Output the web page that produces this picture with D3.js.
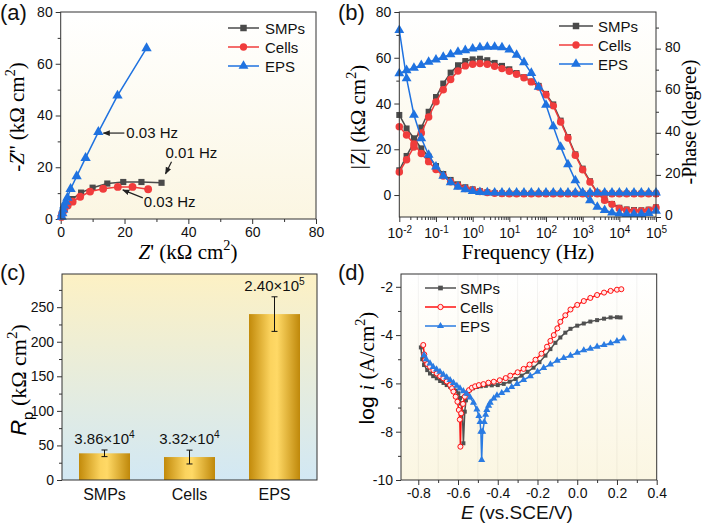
<!DOCTYPE html>
<html>
<head>
<meta charset="utf-8">
<script src="https://cdn.jsdelivr.net/npm/d3@7"></script>
<style>
body{margin:0;background:#fff;}
svg text{font-family:"Liberation Sans",Arial,sans-serif;}
</style>
</head>
<body>
<div id="chart"></div>
<script>
///////////////////////////////////////////////////////////////////////////
//////////////////////////////// Data /////////////////////////////////////
///////////////////////////////////////////////////////////////////////////

var seriesNames = ["SMPs", "Cells", "EPS"];

// (a) Nyquist, kOhm cm2
var nyqSMPsX = [0.3, 0.6, 1.1, 2.1, 3.6, 6.4, 10.0, 14.6, 19.6, 25.3, 31.6];
var nyqSMPsY = [1.3, 2.6, 4.1, 5.8, 7.7, 10.2, 12.1, 13.7, 14.3, 14.3, 14.0];
var nyqCellsX = [0.2, 0.5, 1.1, 2.2, 3.75, 6.1, 9.2, 13.3, 17.9, 22.5, 27.4];
var nyqCellsY = [0.8, 2.1, 3.5, 5.2, 6.7, 8.6, 10.6, 11.7, 12.4, 12.4, 11.5];
var nyqEPSX = [0.3, 0.5, 0.8, 1.1, 1.6, 2.1, 3.1, 5.0, 7.8, 11.8, 17.8, 26.9];
var nyqEPSY = [0.9, 2.2, 3.7, 5.2, 6.7, 8.2, 11.6, 16.5, 23.6, 33.6, 47.7, 66.0];

// (b) Bode
var freq = [0.01, 0.0158, 0.0251, 0.0398, 0.0631, 0.1, 0.158, 0.251, 0.398, 0.631,
  1, 1.58, 2.51, 3.98, 6.31, 10, 15.8, 25.1, 39.8, 63.1,
  100, 158, 251, 398, 631, 1000, 1585, 2512, 3981, 6310,
  10000, 15849, 25119, 39811, 63096, 100000];
var zSMPs = [35.0, 29.1, 24.8, 20.4, 16.8, 12.7, 9.2, 6.6, 4.7, 3.4, 2.5, 1.7, 1.2, 0.9, 0.7, 0.6, 0.6, 0.6, 0.6, 0.6,
  0.6, 0.6, 0.6, 0.6, 0.6, 0.6, 0.6, 0.6, 0.6, 0.6, 0.6, 0.6, 0.6, 0.6, 0.6, 0.6];
var zCells = [29.9, 26.2, 22.3, 18.2, 14.6, 11.2, 8.3, 5.8, 4.1, 2.9, 2.2, 1.5, 1.1, 0.8, 0.7, 0.6, 0.6, 0.6, 0.6, 0.6,
  0.6, 0.6, 0.6, 0.6, 0.6, 0.6, 0.6, 0.6, 0.6, 0.6, 0.6, 0.6, 0.6, 0.6, 0.6, 0.6];
var zEPS = [72.1, 51.0, 35.0, 24.8, 17.5, 12.4, 8.4, 5.5, 3.6, 2.5, 1.7, 1.3, 1.1, 1.0, 1.0, 1.0, 1.0, 1.0, 1.0, 1.0,
  1.0, 1.0, 1.0, 1.0, 1.0, 1.0, 1.0, 1.0, 1.0, 1.0, 1.0, 1.0, 1.0, 1.0, 1.0, 1.0];
var phSMPs = [22.2, 29, 35.5, 42.5, 50, 57, 63.4, 68.6, 72.1, 74.1, 74.9, 75.2, 74.5, 73.2, 71.8, 70.2, 68.4, 66.4, 64.4, 62.3,
  58.5, 53.5, 45.8, 38, 29.8, 23, 17, 11.6, 8, 6.2, 4.4, 3.6, 3.3, 3.2, 3.5, 4.6];
var phCells = [21.4, 27.2, 33.3, 39.9, 47.5, 54.7, 60.5, 65.3, 69.4, 71.8, 72.6, 72.9, 72.6, 71.6, 70.5, 69.2, 67.8, 66.2, 64.2, 61.8,
  58.1, 52.8, 45.1, 37.5, 29.3, 22.5, 16.6, 11.4, 7.9, 6.0, 4.0, 3.2, 2.9, 2.9, 3.2, 4.4];
var phEPS = [68.2, 69.7, 70.8, 72.1, 73.7, 74.8, 76, 77.2, 78.4, 79.2, 80, 80.6, 80.8, 80.8, 80.6, 79.5, 77, 73.5, 68.4, 61.8,
  53.3, 43, 33.3, 25, 17.4, 11.4, 7.9, 4.8, 3.2, 2.1, 1.6, 1.4, 1.3, 1.4, 1.8, 2.9];

// (c) Rp
var rpValues = [38.6, 33.2, 240];
var rpErrors = [4.8, 10, 25];
var rpLabels = [["3.86\u00d710", "4"], ["3.32\u00d710", "4"], ["2.40\u00d710", "5"]];

// (d) Tafel: E (V vs SCE), log i
var tafSMPsE = [-0.787, -0.780, -0.771, -0.755, -0.741, -0.725, -0.707, -0.690, -0.673, -0.657, -0.640, -0.623, -0.610, -0.598, -0.590,
  -0.585, -0.578, -0.573, -0.566, -0.560, -0.553, -0.540, -0.525, -0.505, -0.485, -0.46, -0.43, -0.40, -0.37, -0.34,
  -0.31, -0.28, -0.25, -0.22, -0.19, -0.16, -0.135, -0.11, -0.085, -0.06, -0.034, 0.0, 0.033, 0.066, 0.10, 0.135, 0.168, 0.2, 0.218];
var tafSMPsI = [-4.51, -5.0, -5.24, -5.45, -5.59, -5.70, -5.79, -5.90, -5.98, -6.07, -6.14, -6.21, -6.30, -6.41, -6.60,
  -6.83, -7.24, -8.48, -7.17, -6.70, -6.41, -6.28, -6.20, -6.15, -6.12, -6.10, -6.08, -6.07, -6.02, -5.93,
  -5.82, -5.68, -5.52, -5.35, -5.12, -4.85, -4.58, -4.32, -4.10, -3.90, -3.74, -3.61, -3.52, -3.44, -3.38, -3.32, -3.27, -3.26, -3.27];
var tafCellsE = [-0.775, -0.770, -0.766, -0.755, -0.741, -0.724, -0.707, -0.690, -0.674, -0.657, -0.640, -0.630, -0.623, -0.612, -0.603,
  -0.596, -0.591, -0.588, -0.584, -0.575, -0.566, -0.556, -0.545, -0.530, -0.514, -0.495, -0.472, -0.447, -0.42, -0.39,
  -0.36, -0.337, -0.30, -0.27, -0.24, -0.21, -0.18, -0.152, -0.135, -0.118, -0.10, -0.085, -0.06, -0.034, 0.0,
  0.033, 0.066, 0.10, 0.135, 0.168, 0.2, 0.222];
var tafCellsI = [-4.41, -4.80, -5.03, -5.20, -5.31, -5.45, -5.59, -5.70, -5.79, -5.92, -6.07, -6.20, -6.34, -6.55, -6.76,
  -7.1, -7.5, -8.62, -7.24, -6.85, -6.55, -6.40, -6.28, -6.18, -6.12, -6.07, -6.03, -5.97, -5.93, -5.87,
  -5.78, -5.68, -5.54, -5.40, -5.22, -5.02, -4.77, -4.48, -4.24, -4.0, -3.72, -3.45, -3.18, -2.94, -2.75,
  -2.59, -2.46, -2.34, -2.24, -2.17, -2.12, -2.10];
var tafEPSE = [-0.771, -0.760, -0.741, -0.725, -0.708, -0.691, -0.674, -0.657, -0.640, -0.623, -0.606, -0.590, -0.573, -0.556, -0.539,
  -0.522, -0.505, -0.495, -0.489, -0.485, -0.481, -0.476, -0.468, -0.461, -0.455, -0.446, -0.438, -0.42, -0.404, -0.38,
  -0.354, -0.33, -0.303, -0.27, -0.236, -0.20, -0.169, -0.135, -0.101, -0.068, -0.034, 0.0, 0.033, 0.066, 0.10,
  0.135, 0.168, 0.20, 0.232];
var tafEPSI = [-4.83, -5.0, -5.17, -5.32, -5.42, -5.52, -5.64, -5.75, -5.86, -5.98, -6.10, -6.21, -6.32, -6.43, -6.58,
  -6.80, -7.08, -7.35, -7.60, -8.0, -9.17, -8.0, -7.6, -7.3, -7.1, -6.92, -6.80, -6.62, -6.50, -6.40,
  -6.28, -6.15, -6.02, -5.86, -5.70, -5.52, -5.36, -5.21, -5.06, -4.95, -4.85, -4.73, -4.63, -4.56, -4.48,
  -4.41, -4.34, -4.25, -4.14];

///////////////////////////////////////////////////////////////////////////
//////////////////// Set up and initiate svg container ////////////////////
///////////////////////////////////////////////////////////////////////////

var W = 703, H = 524;
var SERIF = '"Liberation Serif","Times New Roman",serif';
var SANS = '"Liberation Sans",Arial,sans-serif';
var colAB = {SMPs: "#4a4a4a", Cells: "#f03c3c", EPS: "#1f72e0"};
var colD = {SMPs: "#505050", Cells: "#ff1010", EPS: "#2a7be2"};
var TICK = "14px", TITLE = 21;

var svg = d3.select("#chart").append("svg")
  .attr("width", W).attr("height", H)
  .style("background", "#fff");
var defs = svg.append("defs");

function vGrad(id, top, bot) {
  var g = defs.append("linearGradient").attr("id", id)
    .attr("x1", 0).attr("y1", 0).attr("x2", 0).attr("y2", 1);
  g.append("stop").attr("offset", "0%").attr("stop-color", top);
  g.append("stop").attr("offset", "100%").attr("stop-color", bot);
}
vGrad("bgA", "#ffffff", "#fbf6e2");
vGrad("bgC", "#fdf1c4", "#d2e8f4");

var barGrad = defs.append("linearGradient").attr("id", "barGrad")
  .attr("x1", 0).attr("y1", 0).attr("x2", 1).attr("y2", 0);
[["0%", "#c28a0a"], ["42%", "#fbd35e"], ["55%", "#ffd966"], ["100%", "#bf880a"]].forEach(function(s) {
  barGrad.append("stop").attr("offset", s[0]).attr("stop-color", s[1]);
});

defs.append("marker").attr("id", "arr")
  .attr("viewBox", "0 0 10 10").attr("refX", 9).attr("refY", 5)
  .attr("markerWidth", 6).attr("markerHeight", 6).attr("orient", "auto")
  .append("path").attr("d", "M0,1 L10,5 L0,9 z").attr("fill", "#222");

// plot boxes
var bA = {x0: 60.7, x1: 316, y0: 12, y1: 219};
var bB = {x0: 399.3, x1: 656, y0: 12, y1: 217};
var bC = {x0: 62, x1: 317, y0: 274, y1: 480};
var bD = {x0: 401, x1: 656.7, y0: 274, y1: 480};

///////////////////////////////////////////////////////////////////////////
/////////////////////////////// Helpers ///////////////////////////////////
///////////////////////////////////////////////////////////////////////////

// text with sup/sub parts, shifts in px
function rich(sel, parts, size) {
  var shift = 0;
  parts.forEach(function(p) {
    var t = sel.append("tspan").text(p.t);
    var target = p.sup ? -size * 0.42 : (p.sub ? size * 0.3 : 0);
    if (target !== shift) { t.attr("dy", target - shift); shift = target; }
    if (p.f) t.style("font-family", p.f);
    if (p.i) t.style("font-style", "italic");
    if (p.sup || p.sub) t.style("font-size", (size * 0.68) + "px");
  });
  return sel;
}

function background(g, b, fill) {
  g.append("rect").attr("x", b.x0).attr("y", b.y0)
    .attr("width", b.x1 - b.x0).attr("height", b.y1 - b.y0)
    .attr("fill", fill);
}
function border(g, b) {
  g.append("rect").attr("x", b.x0).attr("y", b.y0)
    .attr("width", b.x1 - b.x0).attr("height", b.y1 - b.y0)
    .attr("fill", "none").attr("stroke", "#333").attr("stroke-width", 1);
}

function addAxis(g, axis, tr, major, minor, fmt, pad) {
  var a = g.append("g").attr("transform", tr)
    .call(axis.tickValues(major).tickSize(5).tickSizeOuter(0).tickPadding(pad || 3).tickFormat(fmt));
  a.select(".domain").remove();
  a.selectAll("text").style("font-size", TICK).attr("fill", "#111");
  a.selectAll("line").attr("stroke", "#333");
  if (minor) {
    var m = g.append("g").attr("transform", tr)
      .call(axis.tickValues(minor).tickSize(3).tickFormat(""));
    m.select(".domain").remove();
    m.selectAll("line").attr("stroke", "#333");
  }
  return a;
}

function sym(type, size) { return d3.symbol().type(type).size(size)(); }

function series(g, xs, ys, xScale, yScale, color, type, size, open) {
  var pts = xs.map(function(x, i) { return [xScale(x), yScale(ys[i])]; });
  g.append("path").attr("d", d3.line()(pts))
    .attr("fill", "none").attr("stroke", color).attr("stroke-width", 1.5);
  g.selectAll(null).data(pts).enter().append("path")
    .attr("d", sym(type, size))
    .attr("transform", function(d) { return "translate(" + d[0] + "," + d[1] + ")"; })
    .attr("fill", open ? "#ffe8e8" : color)
    .attr("stroke", open ? color : "none")
    .attr("stroke-width", 1);
}

function legend(g, x0, x1, tx, ys, colors, types, size, openIdx) {
  seriesNames.forEach(function(name, i) {
    var y = ys[i];
    g.append("line").attr("x1", x0).attr("x2", x1).attr("y1", y).attr("y2", y)
      .attr("stroke", colors[name]).attr("stroke-width", 1.5);
    g.append("path").attr("d", sym(types[i], size))
      .attr("transform", "translate(" + ((x0 + x1) / 2) + "," + y + ")")
      .attr("fill", i === openIdx ? "#ffe8e8" : colors[name])
      .attr("stroke", i === openIdx ? colors[name] : "none");
    g.append("text").attr("x", tx).attr("y", y + 5.5)
      .style("font-size", "15px").attr("fill", "#111").text(name);
  });
}

function panelLabel(x, y, s) {
  svg.append("text").attr("x", x).attr("y", y)
    .style("font-size", "22px").attr("fill", "#111").text(s);
}

var types = [d3.symbolSquare, d3.symbolCircle, d3.symbolTriangle];

///////////////////////////////////////////////////////////////////////////
/////////////////////////////// (a) Nyquist ///////////////////////////////
///////////////////////////////////////////////////////////////////////////

var gA = svg.append("g");
background(gA, bA, "url(#bgA)");
var xA = d3.scaleLinear().domain([0, 80]).range([bA.x0, bA.x1]);
var yA = d3.scaleLinear().domain([0, 80]).range([bA.y1, bA.y0]);
addAxis(gA, d3.axisBottom(xA), "translate(0," + bA.y1 + ")", [0, 20, 40, 60, 80], [10, 30, 50, 70], d3.format("d"));
addAxis(gA, d3.axisLeft(yA), "translate(" + bA.x0 + ",0)", [0, 20, 40, 60, 80], [10, 30, 50, 70], d3.format("d"));

series(gA, nyqSMPsX, nyqSMPsY, xA, yA, colAB.SMPs, d3.symbolSquare, 38);
series(gA, nyqCellsX, nyqCellsY, xA, yA, colAB.Cells, d3.symbolCircle, 48);
series(gA, nyqEPSX, nyqEPSY, xA, yA, colAB.EPS, d3.symbolTriangle, 46);
border(gA, bA);

// frequency annotations, offsets from the marked point
var annA = [
  {txt: "0.03 Hz", x: nyqEPSX[9], y: nyqEPSY[9], tail: [26, 1], tip: [5, 1], at: [28, 5.5]},
  {txt: "0.01 Hz", x: nyqSMPsX[10], y: nyqSMPsY[10], tail: [10, -21], tip: [4, -9], at: [4, -25]},
  {txt: "0.03 Hz", x: nyqCellsX[8], y: nyqCellsY[8], tail: [25, 11], tip: [5, 3], at: [26, 20]}
];
annA.forEach(function(a) {
  var px = xA(a.x), py = yA(a.y);
  gA.append("line")
    .attr("x1", px + a.tail[0]).attr("y1", py + a.tail[1])
    .attr("x2", px + a.tip[0]).attr("y2", py + a.tip[1])
    .attr("stroke", "#222").attr("stroke-width", 1.2)
    .attr("marker-end", "url(#arr)");
  gA.append("text").attr("x", px + a.at[0]).attr("y", py + a.at[1])
    .style("font-size", "15px").attr("fill", "#111").text(a.txt);
});

legend(gA, 228, 259, 265, [28, 47, 66], colAB, types, 42, -1);

rich(gA.append("text").attr("x", 188).attr("y", 259).attr("text-anchor", "middle")
  .style("font-family", SERIF).style("font-size", TITLE + "px"),
  [{t: "Z", i: true}, {t: "' (k\u03a9 cm"}, {t: "2", sup: true}, {t: ")"}], TITLE);
rich(gA.append("text").attr("transform", "translate(24,117) rotate(-90)").attr("text-anchor", "middle")
  .style("font-family", SERIF).style("font-size", TITLE + "px"),
  [{t: "-"}, {t: "Z", i: true}, {t: "'' (k\u03a9 cm"}, {t: "2", sup: true}, {t: ")"}], TITLE);
panelLabel(0, 20, "(a)");

///////////////////////////////////////////////////////////////////////////
//////////////////////////////// (b) Bode ////////////////////////////////
///////////////////////////////////////////////////////////////////////////

var gB = svg.append("g");
background(gB, bB, "url(#bgA)");
var xB = d3.scaleLog().domain([0.01, 100000]).range([bB.x0, bB.x1]);
var yBz = d3.scaleLinear().domain([-9.6, 80]).range([bB.y1, bB.y0]);
var yBp = d3.scaleLinear().domain([0, 97.4]).range([bB.y1, bB.y0]);

var decades = [0.01, 0.1, 1, 10, 100, 1000, 10000, 100000];
var minorB = [];
decades.slice(0, -1).forEach(function(d) {
  [2, 3, 4, 5, 6, 7, 8, 9].forEach(function(m) { minorB.push(d * m); });
});
var axB = addAxis(gB, d3.axisBottom(xB), "translate(0," + bB.y1 + ")", decades, minorB, "", 6);
axB.selectAll(".tick text").each(function(d) {
  var t = d3.select(this);
  t.text(null);
  t.append("tspan").text("10");
  t.append("tspan").attr("dy", -5).style("font-size", "10px").text(Math.round(Math.log10(d)));
});
addAxis(gB, d3.axisLeft(yBz), "translate(" + bB.x0 + ",0)", [0, 20, 40, 60, 80], [10, 30, 50, 70], d3.format("d"));
var axBr = addAxis(gB, d3.axisRight(yBp), "translate(" + bB.x1 + ",0)", [0, 20, 40, 60, 80], [10, 30, 50, 70, 90], d3.format("d"), 4);
axBr.selectAll(".tick text").attr("dy", "0.2em");

var bodeZ = {SMPs: zSMPs, Cells: zCells, EPS: zEPS};
var bodeP = {SMPs: phSMPs, Cells: phCells, EPS: phEPS};
var bodeSize = [36, 44, 42];
seriesNames.forEach(function(name, i) {
  series(gB, freq, bodeP[name], xB, yBp, colAB[name], types[i], bodeSize[i]);
  series(gB, freq, bodeZ[name], xB, yBz, colAB[name], types[i], bodeSize[i]);
});
border(gB, bB);

legend(gB, 559, 593, 598, [26, 45, 64], colAB, types, 42, -1);

gB.append("text").attr("x", 528).attr("y", 259).attr("text-anchor", "middle")
  .style("font-family", SERIF).style("font-size", TITLE + "px").text("Frequency (Hz)");
rich(gB.append("text").attr("transform", "translate(365,117) rotate(-90)").attr("text-anchor", "middle")
  .style("font-family", SERIF).style("font-size", TITLE + "px"),
  [{t: "|Z| (k\u03a9 cm"}, {t: "2", sup: true}, {t: ")"}], TITLE);
gB.append("text").attr("transform", "translate(696,122) rotate(-90)").attr("text-anchor", "middle")
  .style("font-family", SERIF).style("font-size", "20px").text("-Phase (degree)");
panelLabel(338, 20, "(b)");

///////////////////////////////////////////////////////////////////////////
///////////////////////////////// (c) Rp //////////////////////////////////
///////////////////////////////////////////////////////////////////////////

var gC = svg.append("g");
background(gC, bC, "url(#bgC)");
var xC = d3.scaleBand().domain(seriesNames).range([bC.x0, bC.x1]).paddingInner(0.4).paddingOuter(0.2);
var yC = d3.scaleLinear().domain([0, 298]).range([bC.y1, bC.y0]);

addAxis(gC, d3.axisLeft(yC), "translate(" + bC.x0 + ",0)", [0, 50, 100, 150, 200, 250], [25, 75, 125, 175, 225, 275], d3.format("d"));
var axC = gC.append("g").attr("transform", "translate(0," + bC.y1 + ")")
  .call(d3.axisBottom(xC).tickSize(0).tickPadding(9));
axC.select(".domain").remove();
axC.selectAll("text").style("font-size", "16px").attr("fill", "#111");

gC.selectAll(".bar").data(seriesNames).enter().append("rect")
  .attr("x", function(d) { return xC(d); })
  .attr("width", xC.bandwidth())
  .attr("y", function(d, i) { return yC(rpValues[i]); })
  .attr("height", function(d, i) { return yC(0) - yC(rpValues[i]); })
  .attr("fill", "url(#barGrad)");

seriesNames.forEach(function(name, i) {
  var cx = xC(name) + xC.bandwidth() / 2;
  var top = yC(rpValues[i] + rpErrors[i]), bot = yC(rpValues[i] - rpErrors[i]);
  gC.append("line").attr("x1", cx).attr("x2", cx).attr("y1", top).attr("y2", bot)
    .attr("stroke", "#111").attr("stroke-width", 1);
  [top, bot].forEach(function(yy) {
    gC.append("line").attr("x1", cx - 3).attr("x2", cx + 3).attr("y1", yy).attr("y2", yy)
      .attr("stroke", "#111").attr("stroke-width", 1);
  });
  rich(gC.append("text").attr("x", cx).attr("y", top - 6).attr("text-anchor", "middle")
    .style("font-size", "15px").attr("fill", "#111"),
    [{t: rpLabels[i][0]}, {t: rpLabels[i][1], sup: true}], 15);
});
border(gC, bC);

rich(gC.append("text").attr("transform", "translate(26,380) rotate(-90)").attr("text-anchor", "middle")
  .style("font-size", "22px"),
  [{t: "R", i: true, f: SANS}, {t: "p", sub: true, f: SANS}, {t: " (k\u03a9 cm", f: SERIF}, {t: "2", sup: true, f: SERIF}, {t: ")", f: SERIF}], 22);
panelLabel(0, 280, "(c)");

///////////////////////////////////////////////////////////////////////////
//////////////////////////////// (d) Tafel ////////////////////////////////
///////////////////////////////////////////////////////////////////////////

var gD = svg.append("g");
background(gD, bD, "url(#bgA)");
var xD = d3.scaleLinear().domain([-0.887, 0.4]).range([bD.x0, bD.x1]);
var yD = d3.scaleLinear().domain([-10, -1.47]).range([bD.y1, bD.y0]);

var gridD = [-0.8, -0.7, -0.6, -0.5, -0.4, -0.3, -0.2, -0.1, 0, 0.1, 0.2, 0.3];
gD.selectAll(".grid").data(gridD).enter().append("line")
  .attr("x1", function(d) { return xD(d); }).attr("x2", function(d) { return xD(d); })
  .attr("y1", bD.y0).attr("y2", bD.y1)
  .attr("stroke", "#000").attr("stroke-opacity", 0.05);

addAxis(gD, d3.axisBottom(xD), "translate(0," + bD.y1 + ")", [-0.8, -0.6, -0.4, -0.2, 0, 0.2, 0.4],
  [-0.7, -0.5, -0.3, -0.1, 0.1, 0.3], function(d) { return d.toFixed(1); });
addAxis(gD, d3.axisLeft(yD), "translate(" + bD.x0 + ",0)", [-10, -8, -6, -4, -2],
  [-9, -7, -5, -3], function(d) { return String(d); });

series(gD, tafSMPsE, tafSMPsI, xD, yD, colD.SMPs, d3.symbolSquare, 16);
series(gD, tafCellsE, tafCellsI, xD, yD, colD.Cells, d3.symbolCircle, 20, true);
series(gD, tafEPSE, tafEPSI, xD, yD, colD.EPS, d3.symbolTriangle, 22);
border(gD, bD);

legend(gD, 425, 456, 460, [288, 307, 326], colD, types, 22, 1);

rich(gD.append("text").attr("x", 517).attr("y", 519).attr("text-anchor", "middle")
  .style("font-size", "19px").attr("fill", "#111"),
  [{t: "E", i: true}, {t: " (vs.SCE/V)"}], 19);
rich(gD.append("text").attr("transform", "translate(374,368) rotate(-90)").attr("text-anchor", "middle")
  .style("font-size", TITLE + "px"),
  [{t: "log ", f: SANS}, {t: "i", i: true, f: SERIF}, {t: " (A/cm", f: SERIF}, {t: "2", sup: true, f: SERIF}, {t: ")", f: SERIF}], TITLE);
panelLabel(338, 280, "(d)");
</script>
</body>
</html>
